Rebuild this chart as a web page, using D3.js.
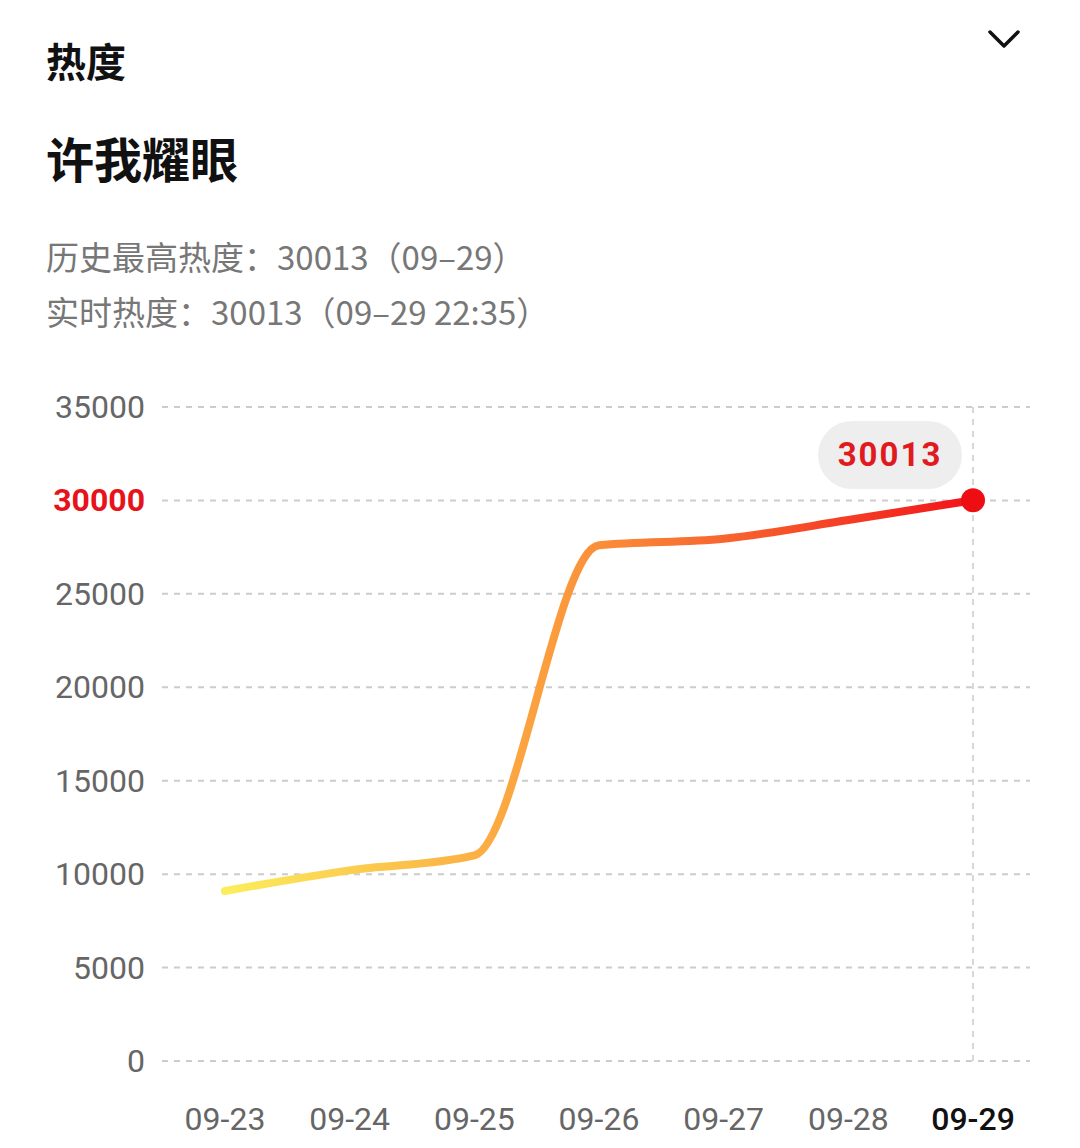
<!DOCTYPE html>
<html lang="zh">
<head>
<meta charset="UTF-8">
<script src="https://d3js.org/d3.v7.min.js"></script>
<style>
  body { margin: 0; background: #fff; font-family: "Noto Sans CJK SC", "Noto Sans", sans-serif; }
</style>
</head>
<body>
<svg id="chart" width="1080" height="1148"></svg>
<script>
const dates = ["09-23", "09-24", "09-25", "09-26", "09-27", "09-28", "09-29"];
const values = [9100, 10200, 11000, 27600, 27950, 28950, 30013];
const yTicks = [0, 5000, 10000, 15000, 20000, 25000, 30000, 35000];

const svg = d3.select("#chart");

// header texts
svg.append("text").attr("x", 46).attr("y", 77).attr("font-size", 40).attr("font-weight", 700)
  .attr("fill", "#111").text("热度");
svg.append("path").attr("d", "M990,32 L1004,46 L1018,32").attr("fill", "none")
  .attr("stroke", "#111").attr("stroke-width", 3.5).attr("stroke-linecap", "round").attr("stroke-linejoin", "round");
svg.append("text").attr("x", 46).attr("y", 178).attr("font-size", 48).attr("font-weight", 700)
  .attr("fill", "#111").text("许我耀眼");
svg.append("text").attr("x", 46).attr("y", 270).attr("font-size", 33)
  .attr("fill", "#777").text("历史最高热度：30013（09–29）");
svg.append("text").attr("x", 46).attr("y", 325).attr("font-size", 33)
  .attr("fill", "#777").text("实时热度：30013（09–29 22:35）");

const x = d3.scalePoint().domain(dates).range([225, 973]);
const y = d3.scaleLinear().domain([0, 35000]).range([1061, 407]);

// grid
svg.selectAll(".grid").data(yTicks).enter().append("line")
  .attr("x1", 162).attr("x2", 1030)
  .attr("y1", d => y(d)).attr("y2", d => y(d))
  .attr("stroke", "#ccc").attr("stroke-width", 2).attr("stroke-dasharray", "6,6");

svg.selectAll(".ylab").data(yTicks).enter().append("text")
  .attr("x", 145).attr("y", d => y(d) + 11)
  .attr("text-anchor", "end").attr("font-size", 32)
  .attr("font-family", "Roboto, sans-serif")
  .attr("fill", d => d === 30000 ? "#e8121a" : "#666")
  .attr("font-weight", d => d === 30000 ? 700 : 400)
  .text(d => d);

// vertical marker line at last date
svg.append("line").attr("x1", x("09-29")).attr("x2", x("09-29"))
  .attr("y1", 407).attr("y2", 1061)
  .attr("stroke", "#ccc").attr("stroke-width", 1.5).attr("stroke-dasharray", "6,6");

svg.selectAll(".xlab").data(dates).enter().append("text")
  .attr("x", d => x(d)).attr("y", 1130)
  .attr("text-anchor", "middle").attr("font-size", 32)
  .attr("font-family", "Roboto, sans-serif")
  .attr("fill", d => d === "09-29" ? "#111" : "#666")
  .attr("font-weight", d => d === "09-29" ? 500 : 400)
  .text(d => d);

// gradient line
const grad = svg.append("defs").append("linearGradient").attr("id", "lg")
  .attr("gradientUnits", "userSpaceOnUse")
  .attr("x1", x("09-23")).attr("x2", x("09-29")).attr("y1", 0).attr("y2", 0);
grad.append("stop").attr("offset", "0%").attr("stop-color", "#fbee5c");
grad.append("stop").attr("offset", "45%").attr("stop-color", "#fb9a3c");
grad.append("stop").attr("offset", "100%").attr("stop-color", "#f2141a");

const line = d3.line().x((d, i) => x(dates[i])).y(d => y(d)).curve(d3.curveMonotoneX);
svg.append("path").datum(values).attr("d", line)
  .attr("fill", "none").attr("stroke", "url(#lg)").attr("stroke-width", 8).attr("stroke-linecap", "round");

const last = values[values.length - 1];
svg.append("circle").attr("cx", x("09-29")).attr("cy", y(last)).attr("r", 12).attr("fill", "#ee0d12");

// bubble label
svg.append("rect").attr("x", 818).attr("y", 421).attr("width", 144).attr("height", 68).attr("rx", 34)
  .attr("fill", "#eeeeee");
svg.append("text").attr("x", 890).attr("y", 466).attr("text-anchor", "middle")
  .attr("font-size", 33).attr("font-weight", 700).attr("font-family", "Roboto, sans-serif")
  .attr("letter-spacing", 2).attr("fill", "#e01a1f").text(last);
</script>
</body>
</html>
